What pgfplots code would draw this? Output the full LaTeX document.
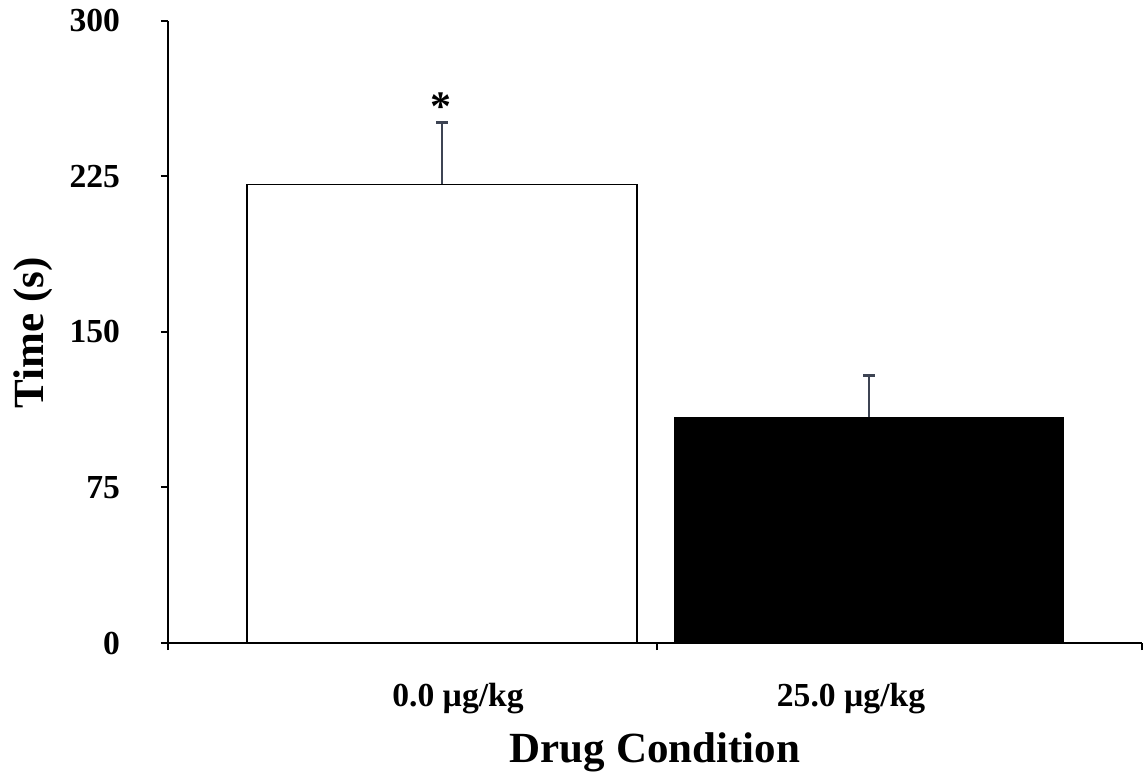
\documentclass[border=0pt]{standalone}
\usepackage{pgfplots}
\pgfplotsset{compat=1.18}
\usepackage{fontspec}
\setmainfont{Liberation Serif}
\definecolor{errc}{HTML}{3D4453}
\begin{document}
\begin{tikzpicture}
\begin{axis}[
  width=487pt, height=311.25pt, scale only axis,
  xmin=168, xmax=1142, ymin=0, ymax=300,
  axis x line*=bottom, axis y line*=left,
  axis line style={-, black, line width=1pt},
  x axis line style={line width=1.3pt},
  ytick={0,75,150,225,300},
  xtick={168,657,1142}, xticklabels={,,},
  tick align=outside, tick style={black, line width=1pt},
  major tick length=3.5pt,
  yticklabel style={font=\fontsize{16.8}{17}\selectfont\bfseries, xshift=-17pt},
  /pgf/number format/assume math mode=true,
  ylabel={Time (s)},
  ylabel style={font=\fontsize{21.5}{22}\selectfont\bfseries, at={(axis description cs:-0.1283,0.498)}, anchor=base},
  xlabel={Drug Condition},
  xlabel style={font=\fontsize{21.5}{22}\selectfont\bfseries, at={(axis description cs:0.5,-0.1912)}, anchor=base},
  clip=false,
]
\addplot[ybar, bar width=195pt, bar shift=0pt, fill=white, draw=black, line width=0.75pt,
  error bars/.cd, y dir=plus, y explicit,
  error bar style={errc, line width=1pt},
  error mark options={errc, line width=1.4pt, mark size=3pt, rotate=90}]
  coordinates {(442,221) +- (0,29.7)};
\addplot[ybar, bar width=194pt, bar shift=0pt, fill=black, draw=black, line width=0.75pt,
  error bars/.cd, y dir=plus, y explicit,
  error bar style={errc, line width=1pt},
  error mark options={errc, line width=1.4pt, mark size=3pt, rotate=90}]
  coordinates {(869,108.7) +- (0,20.3)};
\node[font=\fontsize{21}{21}\selectfont\bfseries, anchor=base] at (axis cs:441,252) {*};
\node[font=\fontsize{16.8}{17}\selectfont\bfseries, anchor=base, yshift=-31.5pt] at (axis cs:458,0) {0.0 µg/kg};
\node[font=\fontsize{16.8}{17}\selectfont\bfseries, anchor=base, yshift=-31.5pt] at (axis cs:851,0) {25.0 µg/kg};
\coordinate (sw) at (rel axis cs:0,0);
\coordinate (ne) at (rel axis cs:1,1);
\end{axis}
\pgfresetboundingbox
\path[use as bounding box] ([xshift=-84pt,yshift=-64.5pt]sw) rectangle ([xshift=1pt,yshift=10.25pt]ne);
\end{tikzpicture}
\end{document}
